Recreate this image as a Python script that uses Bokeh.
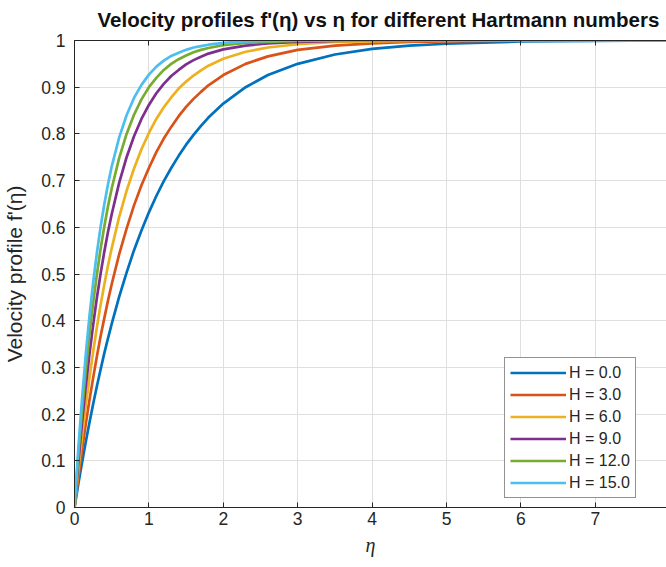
from bokeh.plotting import figure
from bokeh.models import FixedTicker, LinearAxis, Legend, LegendItem, Range1d, CustomLabelingPolicy
from bokeh.embed import file_html
from bokeh.resources import INLINE

# ---- data ----
eta = [0, 0.05, 0.1, 0.15, 0.2, 0.25, 0.3, 0.35, 0.4, 0.45, 0.5, 0.6, 0.7, 0.8,
       0.9, 1.0, 1.1, 1.2, 1.3, 1.4, 1.5, 1.6, 1.7, 1.8, 2.0, 2.3, 2.6, 3.0,
       3.5, 4.0, 4.5, 5.0, 6.0, 7.0, 8.0]

f_h0 = [0, 0.049, 0.095, 0.139, 0.181, 0.221, 0.259, 0.295, 0.330, 0.362, 0.393,
        0.451, 0.503, 0.551, 0.593, 0.632, 0.667, 0.699, 0.727, 0.753, 0.777,
        0.798, 0.817, 0.835, 0.865, 0.900, 0.926, 0.950, 0.970, 0.982, 0.989,
        0.993, 0.998, 0.999, 1.000]
f_h3 = [0, 0.063, 0.122, 0.177, 0.229, 0.277, 0.323, 0.366, 0.405, 0.443, 0.478,
        0.542, 0.597, 0.647, 0.690, 0.727, 0.761, 0.790, 0.815, 0.838, 0.858,
        0.875, 0.890, 0.904, 0.926, 0.950, 0.966, 0.980, 0.989, 0.994, 0.997,
        0.998, 1.000, 1.000, 1.000]
f_h6 = [0, 0.078, 0.150, 0.216, 0.277, 0.333, 0.385, 0.433, 0.477, 0.518, 0.555,
        0.622, 0.678, 0.726, 0.767, 0.802, 0.832, 0.857, 0.878, 0.897, 0.912,
        0.925, 0.936, 0.946, 0.961, 0.976, 0.985, 0.992, 0.997, 0.998, 0.999,
        1.000, 1.000, 1.000, 1.000]
f_h9 = [0, 0.094, 0.180, 0.257, 0.327, 0.390, 0.448, 0.500, 0.547, 0.590, 0.628,
        0.695, 0.750, 0.795, 0.832, 0.862, 0.887, 0.907, 0.924, 0.937, 0.949,
        0.958, 0.965, 0.972, 0.981, 0.989, 0.994, 0.997, 0.999, 1.000, 1.000,
        1.000, 1.000, 1.000, 1.000]
f_h12 = [0, 0.109, 0.206, 0.292, 0.369, 0.437, 0.498, 0.553, 0.601, 0.645, 0.683,
         0.748, 0.800, 0.841, 0.874, 0.900, 0.920, 0.937, 0.950, 0.960, 0.968,
         0.975, 0.980, 0.984, 0.990, 0.995, 0.997, 0.999, 1.000, 1.000, 1.000,
         1.000, 1.000, 1.000, 1.000]
f_h15 = [0, 0.123, 0.230, 0.325, 0.408, 0.481, 0.544, 0.600, 0.649, 0.692, 0.730,
         0.792, 0.840, 0.877, 0.905, 0.927, 0.944, 0.957, 0.967, 0.974, 0.980,
         0.985, 0.988, 0.991, 0.995, 0.998, 0.999, 1.000, 1.000, 1.000, 1.000,
         1.000, 1.000, 1.000, 1.000]

series_labels = ["H = 0.0", "H = 3.0", "H = 6.0", "H = 9.0", "H = 12.0", "H = 15.0"]
series_values = [f_h0, f_h3, f_h6, f_h9, f_h12, f_h15]
series_colors = ["#0072BD", "#D95319", "#EDB120", "#7E2F8E", "#77AC30", "#4DBEEE"]

x_ticks = [0, 1, 2, 3, 4, 5, 6, 7, 8]
y_ticks = [0, 0.1, 0.2, 0.3, 0.4, 0.5, 0.6, 0.7, 0.8, 0.9, 1]
y_tick_labels = ["0", "0.1", "0.2", "0.3", "0.4", "0.5", "0.6", "0.7", "0.8", "0.9", "1"]

title_text = "Velocity profiles f'(\u03b7) vs \u03b7 for different Hartmann numbers"
x_label = "\u03b7"
y_label = "Velocity profile f'(\u03b7)"

# ---- figure ----
AX = "#262626"
FONT = "Liberation Sans"

p = figure(width=666, height=567, x_range=Range1d(0, 7.957), y_range=Range1d(0, 1),
           output_backend="svg", toolbar_location=None,
           min_border_left=74, min_border_right=0, min_border_top=38, min_border_bottom=60,
           background_fill_color="white", border_fill_color="white",
           outline_line_color=None)

p.title.text = title_text
p.title.text_font = FONT
p.title.text_font_style = "bold"
p.title.text_font_size = "20.5px"
p.title.text_color = "#111111"
p.title.align = "left"
p.title.offset = 23
p.title.standoff = 11

p.xaxis.ticker = FixedTicker(ticks=x_ticks)
p.yaxis.ticker = FixedTicker(ticks=y_ticks)
p.xgrid.ticker = FixedTicker(ticks=x_ticks)
p.ygrid.ticker = FixedTicker(ticks=y_ticks)
p.yaxis.major_label_overrides = {t: l for t, l in zip(y_ticks, y_tick_labels)}

for ax in (p.xaxis[0], p.yaxis[0]):
    ax.axis_line_color = AX
    ax.axis_line_width = 1
    ax.major_tick_line_color = AX
    ax.major_tick_in = 5
    ax.major_tick_out = 0
    ax.minor_tick_in = 0
    ax.minor_tick_out = 0
    ax.major_label_text_font = FONT
    ax.major_label_text_font_size = "17.5px"
    ax.major_label_text_color = AX
    ax.axis_label_text_color = AX

p.xaxis.major_label_standoff = 4
p.yaxis.major_label_standoff = 9
p.xaxis.axis_label = x_label
p.xaxis.axis_label_text_font = "Liberation Serif"
p.xaxis.axis_label_text_font_style = "italic"
p.xaxis.axis_label_text_font_size = "20px"
p.xaxis.axis_label_standoff = 6
p.yaxis.axis_label = y_label
p.yaxis.axis_label_text_font = FONT
p.yaxis.axis_label_text_font_style = "normal"
p.yaxis.axis_label_text_font_size = "21px"
p.yaxis.axis_label_standoff = 12

p.xgrid.grid_line_color = "#dfdfdf"
p.ygrid.grid_line_color = "#dfdfdf"
p.xgrid.grid_line_width = 1
p.ygrid.grid_line_width = 1

no_labels = CustomLabelingPolicy(code="""
for (const i of indices) { indices.unset(i) }
return indices
""")
top_axis = LinearAxis(ticker=FixedTicker(ticks=x_ticks),
                      axis_line_color=AX, major_tick_line_color=AX,
                      major_tick_in=5, major_tick_out=0,
                      minor_tick_in=0, minor_tick_out=0,
                      major_label_policy=no_labels,
                      major_label_text_font_size="1px", major_label_standoff=0)
p.add_layout(top_axis, "above")

items = []
for lab, vals, col in zip(series_labels, series_values, series_colors):
    r = p.line(eta, vals, line_color=col, line_width=2.7)
    items.append(LegendItem(label=lab, renderers=[r]))

legend = Legend(items=items, location=(430, 9), margin=0, padding=5,
                glyph_width=56, glyph_height=19, label_height=19, spacing=3,
                label_standoff=3, label_text_font=FONT, label_text_font_size="16px",
                label_text_color=AX, border_line_color=AX, border_line_width=1,
                background_fill_color="white", background_fill_alpha=1)
p.add_layout(legend)

open("out.html", "w").write(file_html(p, INLINE))
